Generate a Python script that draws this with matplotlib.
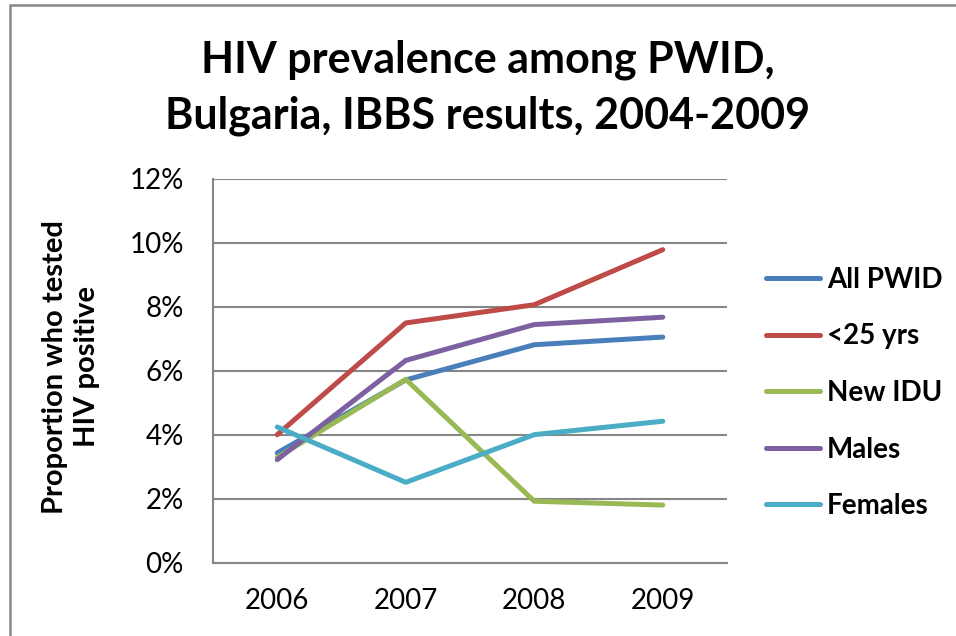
import matplotlib
matplotlib.use("Agg")
import matplotlib.pyplot as plt
from matplotlib.patches import Rectangle
from matplotlib.ticker import FuncFormatter

years = ["2006", "2007", "2008", "2009"]
all_pwid = [3.44, 5.72, 6.82, 7.06]
under_25 = [4.01, 7.50, 8.07, 9.79]
new_idu = [3.30, 5.74, 1.93, 1.81]
males = [3.23, 6.33, 7.45, 7.68]
females = [4.25, 2.52, 4.01, 4.43]

series_names = ["All PWID", "<25 yrs", "New IDU", "Males", "Females"]
series_colors = ["#4A7EBB", "#BE4B48", "#98B954", "#7D60A0", "#4BACC6"]

plt.rcParams['font.family'] = ['Lato', 'DejaVu Sans']

fig = plt.figure(figsize=(9.56, 6.36), dpi=100)
ax = fig.add_axes([0.2228, 0.1148, 0.5377, 0.6038])

x = range(len(years))
for vals, name, col in zip([all_pwid, under_25, new_idu, males, females], series_names, series_colors):
    ax.plot(x, vals, color=col, lw=3.6, label=name, solid_capstyle='round', solid_joinstyle='round')

ax.set_xlim(-0.5, len(years) - 0.5)
ax.set_ylim(0, 12)
ax.set_yticks(range(0, 13, 2))
ax.yaxis.set_major_formatter(FuncFormatter(lambda v, p: "%d%%" % v))
ax.set_xticks(list(x))
ax.set_xticklabels(years)
ax.tick_params(axis='both', length=0, labelsize=20)
ax.tick_params(axis='y', pad=21)
ax.tick_params(axis='x', pad=18)

ax.grid(axis='y', color='#868686', lw=1.5)
ax.set_axisbelow(True)
for s in ['top', 'right']:
    ax.spines[s].set_visible(False)
for s in ['left', 'bottom']:
    ax.spines[s].set_color('#868686')
    ax.spines[s].set_linewidth(1.5)

fig.text(0.074, 0.423, "Proportion who tested\nHIV positive", rotation=90,
         ha='center', va='center', fontsize=21, fontweight='bold', linespacing=1.28)

fig.text(0.51, 0.862, "HIV prevalence among PWID,\nBulgaria, IBBS results, 2004-2009",
         ha='center', va='center', fontsize=31, fontweight='bold', linespacing=1.45)

leg = fig.legend(loc='center left', bbox_to_anchor=(0.801, 0.382), frameon=False,
                 prop={'weight': 'bold', 'size': 20}, handlelength=1.95,
                 handletextpad=0.25, labelspacing=1.1, borderaxespad=0, borderpad=0)
for line in leg.get_lines():
    line.set_solid_capstyle('round')

fig.patches.append(Rectangle((10 / 956, -0.1), 1.2, 1.1 - 5 / 636, transform=fig.transFigure,
                             fill=False, edgecolor='#888888', lw=1.8, figure=fig))

fig.savefig("out.png", dpi=100)
